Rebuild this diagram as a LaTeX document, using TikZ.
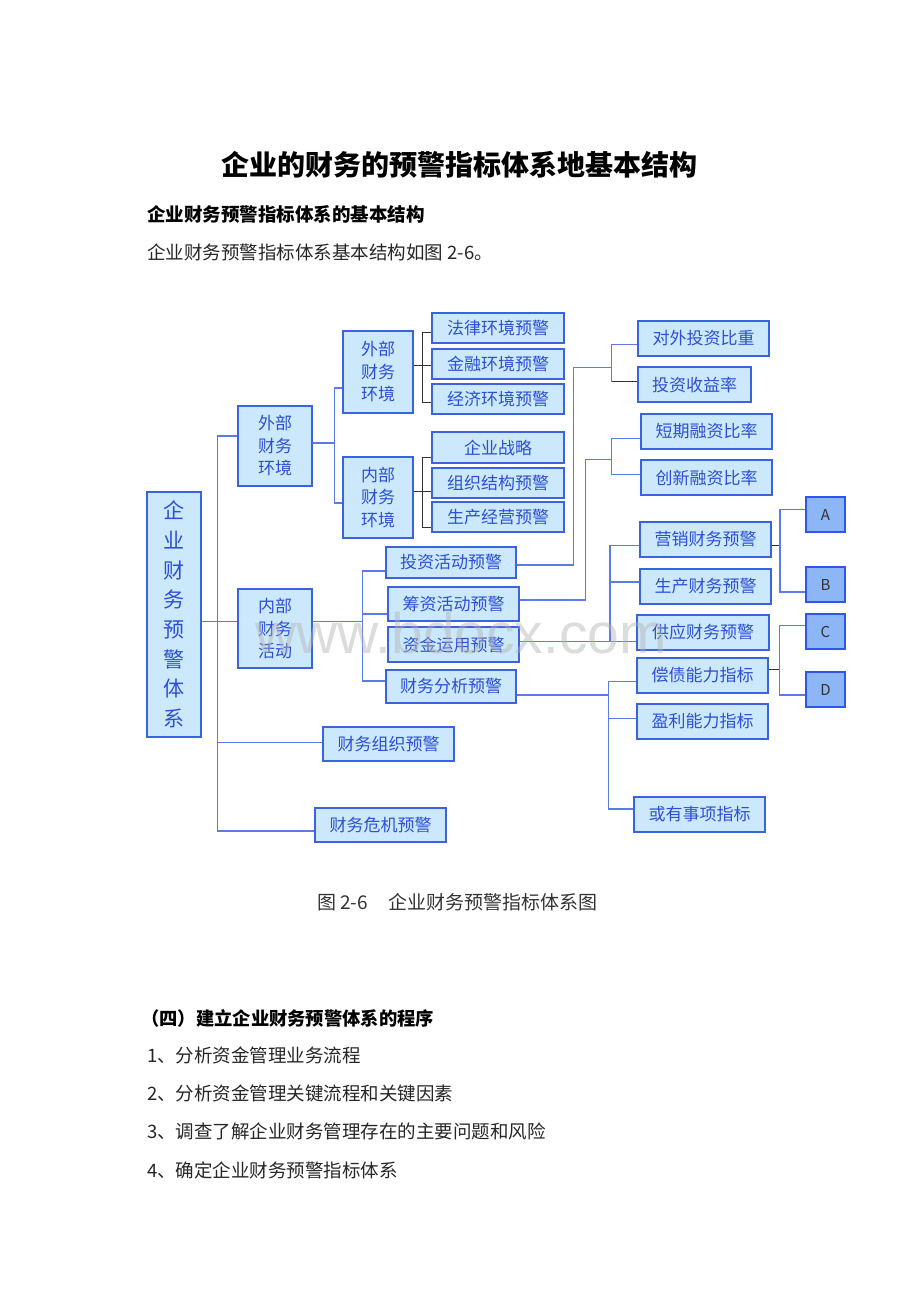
\documentclass[tikz,border=0pt]{standalone}
\usepackage{fontspec}
\newfontfamily\cjk{Noto Sans CJK SC}
\newfontfamily\wmfont{Liberation Sans}
\definecolor{bfill}{HTML}{CCE8FC}
\definecolor{bdraw}{HTML}{3A63E0}
\definecolor{btext}{HTML}{2C4FD6}
\definecolor{afill}{HTML}{8CB6F6}
\definecolor{adraw}{HTML}{2F55EE}
\definecolor{lblue}{HTML}{5A7BE8}
\definecolor{ldark}{HTML}{333333}
\begin{document}
\begin{tikzpicture}[x=1pt,y=-1pt,
  box/.style={draw=bdraw, fill=bfill, line width=1.3pt, text=btext, font=\cjk\fontsize{17}{22.5}\selectfont, inner sep=0pt, align=center},
  abox/.style={draw=adraw, fill=afill, line width=1.3pt, text=ldark, font=\cjk\fontsize{15}{15}\selectfont, inner sep=0pt, minimum width=39pt, minimum height=35pt},
  ln/.style={draw=lblue, line width=1.2pt},
  dk/.style={draw=ldark, line width=1.2pt},
  txt/.style={anchor=west, inner sep=0pt, font=\cjk\fontsize{18.5}{18.5}\selectfont, text=black!85}
]
\useasboundingbox (0,0) rectangle (920,1302);
\fill[white] (0,0) rectangle (920,1302);

% header texts
\node[inner sep=0pt, font=\cjk\bfseries\fontsize{28}{28}\selectfont] (title) at (459.5,165) {企业的财务的预警指标体系地基本结构};
\node[txt, font=\cjk\bfseries\fontsize{18.5}{18.5}\selectfont, text=black] (sub) at (147,214) {企业财务预警指标体系的基本结构};
\node[txt] (intro) at (147,252) {企业财务预警指标体系基本结构如图 2-6。};

% boxes
\node[box, minimum width=54pt, minimum height=245pt, font=\cjk\fontsize{21}{29.7}\selectfont] (root) at (174,614.5) {企\\业\\财\\务\\预\\警\\体\\系};
\node[box, minimum width=74pt, minimum height=80pt] (l1a) at (275,446) {外部\\财务\\环境};
\node[box, minimum width=74pt, minimum height=79pt] (l1b) at (275,628.5) {内部\\财务\\活动};
\node[box, minimum width=70pt, minimum height=82pt] (l2a) at (378,372) {外部\\财务\\环境};
\node[box, minimum width=70pt, minimum height=81pt] (l2b) at (378,497.5) {内部\\财务\\环境};

\node[box, minimum width=132pt, minimum height=30pt] (law) at (498,328) {法律环境预警};
\node[box, minimum width=132pt, minimum height=30pt] (fin) at (498,364) {金融环境预警};
\node[box, minimum width=132pt, minimum height=30pt] (eco) at (498,399) {经济环境预警};
\node[box, minimum width=132pt, minimum height=31pt] (stra) at (498,447.5) {企业战略};
\node[box, minimum width=132pt, minimum height=30pt] (orgs) at (498,483) {组织结构预警};
\node[box, minimum width=132pt, minimum height=30pt] (prod) at (498,517) {生产经营预警};

\node[box, minimum width=130pt, minimum height=31pt] (inv) at (451,562.5) {投资活动预警};
\node[box, minimum width=131pt, minimum height=34pt] (fund) at (453.5,604) {筹资活动预警};
\node[box, minimum width=131pt, minimum height=35pt] (use) at (453.5,644.5) {资金运用预警};
\node[box, minimum width=130pt, minimum height=33pt] (ana) at (451,686.5) {财务分析预警};
\node[box, minimum width=131pt, minimum height=34pt] (forg) at (388.5,744) {财务组织预警};
\node[box, minimum width=131pt, minimum height=34pt] (fcri) at (380.5,825) {财务危机预警};

\node[box, minimum width=131pt, minimum height=35pt] (wai) at (703.5,338.5) {对外投资比重};
\node[box, minimum width=113pt, minimum height=35pt] (shou) at (694.5,384.5) {投资收益率};
\node[box, minimum width=131pt, minimum height=35pt] (short) at (706.5,431.5) {短期融资比率};
\node[box, minimum width=131pt, minimum height=35pt] (innov) at (706.5,477.5) {创新融资比率};
\node[box, minimum width=131pt, minimum height=35pt] (mkt) at (705.5,539.5) {营销财务预警};
\node[box, minimum width=131pt, minimum height=35pt] (prd) at (705.5,586.5) {生产财务预警};
\node[box, minimum width=132pt, minimum height=35pt] (supp) at (703,632.5) {供应财务预警};
\node[box, minimum width=131pt, minimum height=35pt] (debt) at (702.5,675.5) {偿债能力指标};
\node[box, minimum width=131pt, minimum height=35pt] (prof) at (702.5,721.5) {盈利能力指标};
\node[box, minimum width=131pt, minimum height=35pt] (cont) at (699.5,814.5) {或有事项指标};

\node[abox] (A) at (825.5,514.5) {A};
\node[abox] (B) at (825.5,584.5) {B};
\node[abox] (C) at (825.5,631.5) {C};
\node[abox] (D) at (825.5,689.5) {D};

% trunk
\coordinate (tk1) at (217.7,436);
\coordinate (tk2) at (217.7,831);
\draw[ln] (l1a.west |- tk1) -- (tk1) -- (tk2) -- (fcri.west |- tk2);
\draw[ln] (root.east |- 0,621.7) -- (l1b.west |- 0,621.7);
\draw[ln] (tk1 |- 0,742.3) -- (forg.west |- 0,742.3);

% level1 -> level2
\draw[ln] (l1a.east |- 0,443) -- (334.3,443);
\draw[ln] (l2a.west |- 0,388) -- (334.3,388) -- (334.3,503) -- (l2b.west |- 0,503);

% level2 -> level3
\draw[dk] (law.west |- 0,332.7) -- (422.7,332.7) -- (422.7,402.3) -- (eco.west |- 0,402.3);
\draw[dk] (l2a.east |- 0,365.7) -- (fin.west |- 0,365.7);
\draw[dk] (stra.west |- 0,457.7) -- (422.7,457.7) -- (422.7,527.7) -- (prod.west |- 0,527.7);
\draw[dk] (l2b.east |- 0,491.7) -- (orgs.west |- 0,491.7);

% internal activities
\draw[ln] (l1b.east |- 0,621.7) -- (362.3,621.7);
\draw[ln] (inv.west |- 0,571) -- (362.3,571) -- (362.3,681) -- (ana.west |- 0,681);
\draw[ln] (362.3,614) -- (fund.west |- 0,614);

% invest
\draw[ln] (inv.east |- 0,565) -- (573.5,565) -- (573.5,367.7) -- (611.5,367.7);
\draw[ln] (wai.west |- 0,344.3) -- (611.5,344.3) -- (611.5,381.7);
\draw[dk] (611.5,381.7) -- (shou.west |- 0,381.7);

% financing
\draw[ln] (fund.east |- 0,600) -- (585.5,600) -- (585.5,459.5) -- (611.7,459.5);
\draw[ln] (short.west |- 0,438.3) -- (611.7,438.3) -- (611.7,474.3) -- (innov.west |- 0,474.3);

% fund usage
\draw[ln] (use.east |- 0,641.3) -- (supp.west |- 0,641.3);
\draw[ln] (mkt.west |- 0,545.7) -- (610,545.7) -- (610,641.3);
\draw[ln] (610,582) -- (prd.west |- 0,582);

% analysis
\draw[ln] (ana.east |- 0,695) -- (608.3,695);
\draw[ln] (debt.west |- 0,681.7) -- (608.3,681.7) -- (608.3,809) -- (cont.west |- 0,809);
\draw[ln] (608.3,718.3) -- (prof.west |- 0,718.3);

% A B C D
\draw[dk] (mkt.east |- 0,545.7) -- (780,545.7);
\draw[ln] (A.west |- 0,509.3) -- (780,509.3) -- (780,592) -- (B.west |- 0,592);
\draw[dk] (debt.east |- 0,669.3) -- (779.3,669.3);
\draw[ln] (C.west |- 0,625.3) -- (779.3,625.3) -- (779.3,695) -- (D.west |- 0,695);

% watermark
\node[anchor=base west, inner sep=0pt, font=\wmfont\fontsize{57}{57}\selectfont, text=black!30, opacity=0.45] (wmk) at (255,653) {www.bdocx.com};

% caption
\node[anchor=west, inner sep=0pt, font=\cjk\fontsize{19}{19}\selectfont, text=black!80] (cap) at (317,902) {图 2-6\hspace{20pt}企业财务预警指标体系图};

% bottom text
\node[txt, font=\cjk\bfseries\fontsize{18.3}{18.3}\selectfont, text=black] (sec) at (141,1018) {（四）建立企业财务预警体系的程序};
\node[txt] (s1) at (147,1055) {1、分析资金管理业务流程};
\node[txt] (s2) at (147,1093) {2、分析资金管理关键流程和关键因素};
\node[txt] (s3) at (147,1131.7) {3、调查了解企业财务管理存在的主要问题和风险};
\node[txt] (s4) at (147,1170) {4、确定企业财务预警指标体系};
\end{tikzpicture}
\end{document}
